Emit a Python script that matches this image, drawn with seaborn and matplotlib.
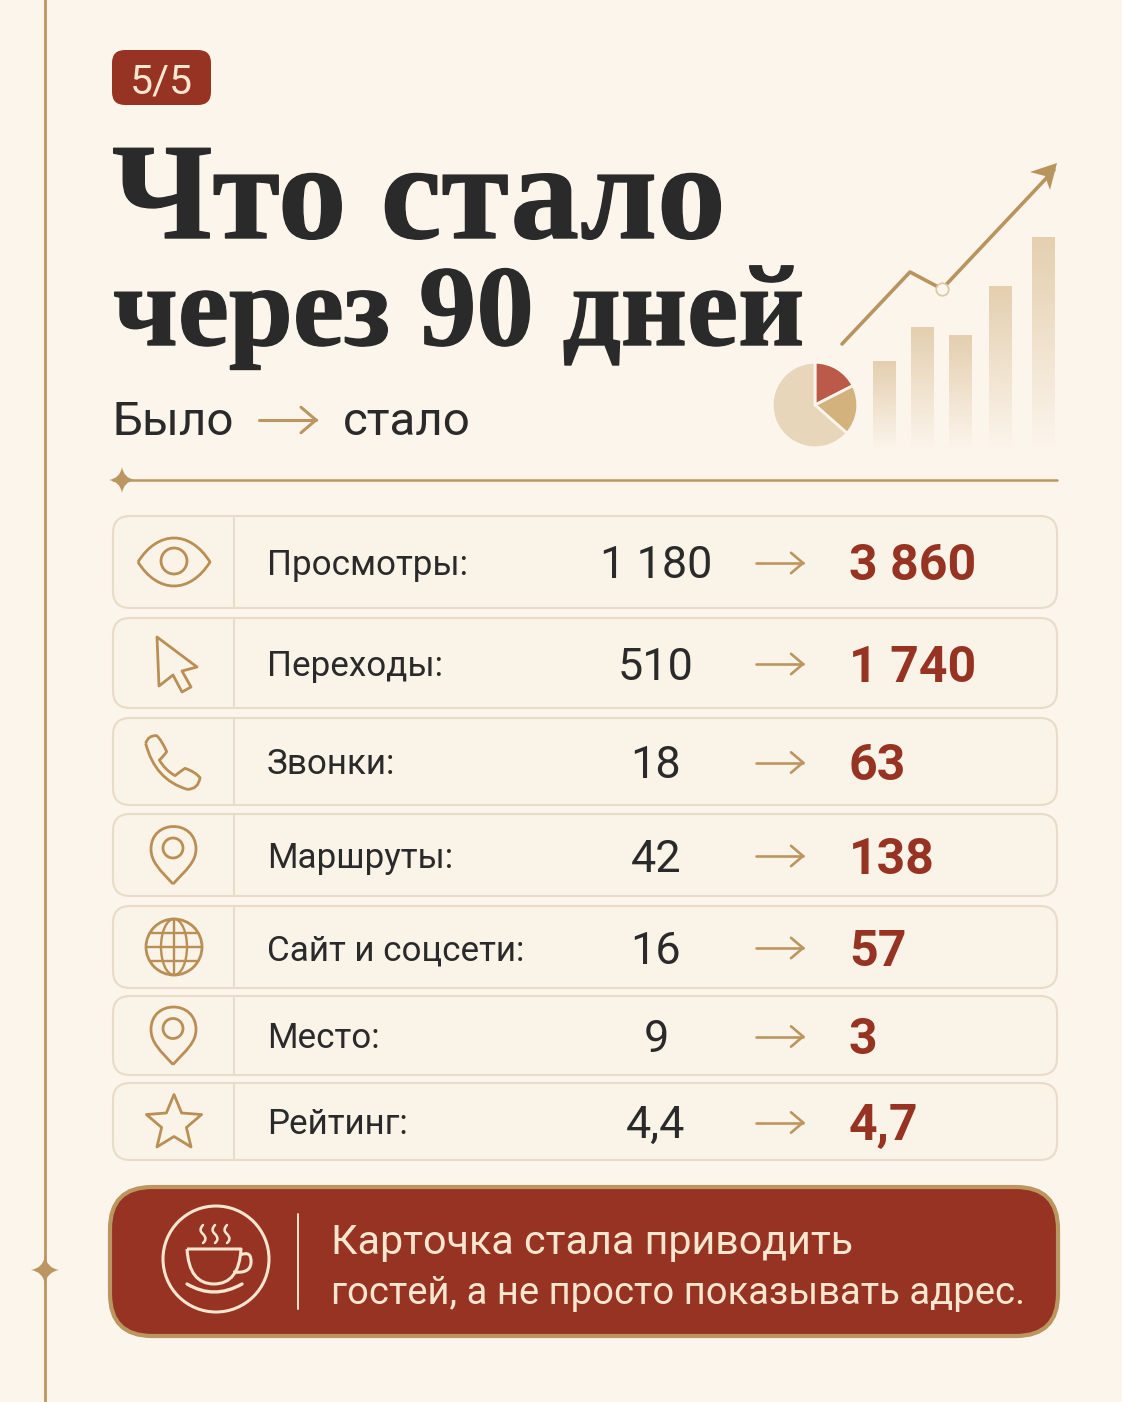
import numpy as np
import pandas as pd
import seaborn as sns
import matplotlib.pyplot as plt
import matplotlib.patheffects as pe
from matplotlib.colors import to_rgb
from matplotlib.patches import FancyBboxPatch, PathPatch, Circle, Ellipse, Polygon
from matplotlib.path import Path

# table values
labels = ["Просмотры:", "Переходы:", "Звонки:", "Маршруты:", "Сайт и соцсети:", "Место:", "Рейтинг:"]
before = ["1 180", "510", "18", "42", "16", "9", "4,4"]
after = ["3 860", "1 740", "63", "138", "57", "3", "4,7"]
icons = ["eye", "cursor", "phone", "pin", "globe", "pin", "star"]

# decoration chart values
bar_x = [0, 0.95, 1.9, 2.9, 3.98]
bar_values = [89, 123, 115, 164, 213]
trend_x = [-1.05, 0.65, 1.45, 4.25]
trend_y = [106, 178, 161, 280]
pie_values = [17.5, 19, 63.5]

BG = "#FCF5EC"
CARD = "#FAF3E8"
CARD_EDGE = "#E8DCC8"
GOLD = "#BC9660"
ICON = "#B98F55"
RED = "#963322"
DARK = "#2A2A2A"
CREAM = "#F8E6CF"

row_top = [516, 618, 718, 814, 906, 996, 1083]
row_bot = [608, 708, 805, 896, 988, 1075, 1160]

sns.set_theme(style="white")
plt.rcParams["font.family"] = ["Roboto", "DejaVu Sans"]


def fs(px):
    return px * 0.72


def star4(ax, x, y, r, color):
    codes = [Path.MOVETO] + [Path.CURVE3] * 8
    k = r * 0.14
    verts = [(x, y - r), (x + k, y - k), (x + r, y), (x + k, y + k), (x, y + r), (x - k, y + k), (x - r, y),
             (x - k, y - k), (x, y - r)]
    ax.add_patch(PathPatch(Path(verts, codes), fc=color, ec="none", zorder=4))


def thin_arrow(ax, x0, x1, y, head, lw, color):
    ax.plot([x0, x1], [y, y], color=color, lw=lw, solid_capstyle="round")
    ax.plot([x1 - head, x1, x1 - head], [y - head * 0.85, y, y + head * 0.85], color=color, lw=lw,
            solid_capstyle="round", solid_joinstyle="miter")


def outline(ax, verts, codes, lw=2.0):
    ax.add_patch(PathPatch(Path(verts, codes), fc="none", ec=ICON, lw=lw, joinstyle="round", zorder=4))


def draw_icon(ax, name, cy):
    if name == "eye":
        M, C = Path.MOVETO, Path.CURVE4
        verts = [(138, cy), (158, cy - 32), (190, cy - 32), (210, cy), (190, cy + 32), (158, cy + 32), (138, cy)]
        outline(ax, verts, [M, C, C, C, C, C, C])
        ax.add_patch(Circle((174, cy - 1), 13, fc="none", ec=ICON, lw=2.0, zorder=4))
    elif name == "cursor":
        pts = [(157, 637), (197, 667), (182, 671), (191, 687), (182, 692), (173, 675), (159, 686)]
        ax.add_patch(Polygon(pts, closed=True, fc="none", ec=ICON, lw=2.0, joinstyle="round", zorder=4))
    elif name == "phone":
        zoom = [(137, 700), (145, 675), (170, 677), (185, 690), (200, 725), (190, 740), (178, 750), (195, 780),
                (225, 797), (240, 785), (255, 775), (285, 785), (300, 803), (295, 838), (262, 838), (165, 810),
                (137, 700)]
        verts = [(100 + a / 3, 510 + b / 3) for a, b in zoom]
        outline(ax, verts, [Path.MOVETO] + [Path.CURVE3] * 16)
    elif name == "pin":
        M, C = Path.MOVETO, Path.CURVE4
        top = cy - 29
        tip = cy + 29
        verts = [(173, tip), (160, top + 44), (151, top + 36), (151, top + 23), (151, top - 7), (196, top - 7),
                 (196, top + 23), (196, top + 36), (186, top + 44), (173, tip)]
        outline(ax, verts, [M, C, C, C, C, C, C, C, C, C])
        ax.add_patch(Circle((173, cy - 7), 10, fc="none", ec=ICON, lw=2.0, zorder=4))
    elif name == "globe":
        ax.add_patch(Circle((174, cy), 28, fc="none", ec=ICON, lw=2.0, zorder=4))
        ax.add_patch(Ellipse((174, cy), 26, 56, fc="none", ec=ICON, lw=1.7, zorder=4))
        ax.plot([174, 174], [cy - 28, cy + 28], color=ICON, lw=1.7, zorder=4)
        ax.plot([146, 202], [cy, cy], color=ICON, lw=1.7, zorder=4)
        ax.plot([150, 198], [cy - 14, cy - 14], color=ICON, lw=1.7, zorder=4)
        ax.plot([150, 198], [cy + 14, cy + 14], color=ICON, lw=1.7, zorder=4)
    elif name == "star":
        ang = np.deg2rad(np.arange(0, 360, 36) - 90)
        rad = np.where(np.arange(10) % 2 == 0, 29, 13)
        pts = np.column_stack([174 + rad * np.cos(ang), cy + 2 + rad * np.sin(ang)])
        ax.add_patch(Polygon(pts, closed=True, fc="none", ec=ICON, lw=2.0, joinstyle="round", zorder=4))


fig = plt.figure(figsize=(11.22, 14.02), dpi=100, facecolor=BG)
ax = fig.add_axes([0, 0, 1, 1])
ax.set_xlim(0, 1122)
ax.set_ylim(1402, 0)
ax.axis("off")

# left rule
ax.plot([45, 45], [0, 1402], color=GOLD, lw=2)
star4(ax, 45, 1270, 14, GOLD)

# badge
ax.add_patch(FancyBboxPatch((112, 50), 99, 55, boxstyle="round,pad=0,rounding_size=13", fc=RED, ec="none"))
ax.text(161, 78, "5/5", color=CREAM, fontsize=fs(41), ha="center", va="center_baseline")

# title
title_fx = [pe.withStroke(linewidth=1.0, foreground=DARK)]
ax.text(112, 238, "Что стало", color=DARK, fontsize=fs(137), family="Liberation Serif", weight="bold",
        va="baseline", path_effects=title_fx)
ax.text(113, 345, "через 90 дней", color=DARK, fontsize=fs(115), family="Liberation Serif", weight="bold",
        va="baseline", path_effects=title_fx)

# subtitle
ax.text(112, 435, "Было", color=DARK, fontsize=fs(47.5), va="baseline")
thin_arrow(ax, 259, 316, 420, 15, 2.2, GOLD)
ax.text(343, 435, "стало", color=DARK, fontsize=fs(47.5), va="baseline")

# divider
ax.plot([113, 1057], [480, 480], color=GOLD, lw=1.8)
star4(ax, 122, 480, 13, GOLD)

# table rows
for i in range(len(labels)):
    top, bot = row_top[i], row_bot[i]
    cy = (top + bot) / 2
    ax.add_patch(FancyBboxPatch((113, top), 944, bot - top, boxstyle="round,pad=0,rounding_size=17",
                                fc=CARD, ec=CARD_EDGE, lw=1.5))
    ax.plot([234, 234], [top, bot], color=CARD_EDGE, lw=1.5)
    draw_icon(ax, icons[i], cy)
    ax.text(267, cy, labels[i], color=DARK, fontsize=fs(35), va="center_baseline")
    ax.text(656, cy, before[i], color=DARK, fontsize=fs(45), ha="center", va="center_baseline")
    thin_arrow(ax, 756, 803, cy + 1, 12, 1.9, GOLD)
    ax.text(849, cy, after[i], color=RED, fontsize=fs(50), weight="bold", va="center_baseline")

# banner
ax.add_patch(FancyBboxPatch((110, 1187), 948, 149, boxstyle="round,pad=0,rounding_size=42", fc=RED, ec=GOLD, lw=3))
ax.add_patch(Circle((216, 1259), 53, fc="none", ec=CREAM, lw=2.2))
ax.plot([298, 298], [1214, 1309], color=CREAM, lw=1.4)

M, L, Q = Path.MOVETO, Path.LINETO, Path.CURVE3
cup = [(187, 1249), (241, 1249), (239, 1284), (214, 1284), (189, 1284), (187, 1249)]
ax.add_patch(PathPatch(Path(cup, [M, L, Q, Q, Q, Q]), fc="none", ec=CREAM, lw=2.2, joinstyle="round"))
handle = [(240, 1255), (252, 1250), (251, 1263), (250, 1274), (233, 1272)]
ax.add_patch(PathPatch(Path(handle, [M, Q, Q, Q, Q]), fc="none", ec=CREAM, lw=2.2))
ax.add_patch(PathPatch(Path([(187, 1284), (214, 1300), (242, 1284)], [M, Q, Q]), fc="none", ec=CREAM, lw=2.4,
                       capstyle="round"))
for sx in [203, 215, 227]:
    steam = [(sx, 1225), (sx - 5, 1230), (sx, 1234), (sx + 5, 1239), (sx, 1243)]
    ax.add_patch(PathPatch(Path(steam, [M, Q, Q, Q, Q]), fc="none", ec=CREAM, lw=1.8, capstyle="round"))

ax.text(331, 1238, "Карточка стала приводить", color=CREAM, fontsize=fs(41.2), va="center_baseline")
ax.text(331, 1289, "гостей, а не просто показывать адрес.", color=CREAM, fontsize=fs(38.3), va="center_baseline")

# small chart, top right: one unit of x = 40 px, one unit of y = 1 px
x_lo, x_hi = -1.2, 4.5
left = 884 + x_lo * 40
right = 884 + x_hi * 40
bar_ax = fig.add_axes([left / 1122, 1 - 450 / 1402, (right - left) / 1122, 290 / 1402], facecolor="none")
chart = pd.DataFrame({"x": bar_x, "v": bar_values})
sns.barplot(data=chart, x="x", y="v", color="#E6D3B5", width=0.58, saturation=1, native_scale=True, ax=bar_ax)

# fade each bar into the background towards its foot
for patch in list(bar_ax.patches):
    bx, bw, bh = patch.get_x(), patch.get_width(), patch.get_height()
    rgba = np.zeros((64, 1, 4))
    rgba[..., :3] = to_rgb("#E4CFAF")
    rgba[..., 3] = np.linspace(1, 0, 64).reshape(-1, 1)
    patch.set_visible(False)
    bar_ax.imshow(rgba, extent=(bx, bx + bw, 0, bh), aspect="auto", origin="upper", zorder=1)

sns.lineplot(x=trend_x, y=trend_y, color="#B8945F", lw=2.6, sort=False, ax=bar_ax, zorder=3)
bar_ax.plot([trend_x[2]], [trend_y[2]], "o", ms=9, mfc=BG, mec="#D9C7A8", mew=1.2, zorder=4)
bar_ax.set_xlim(x_lo, x_hi)
bar_ax.set_ylim(0, 290)
bar_ax.axis("off")

# arrow head of the trend line
ax.add_patch(Polygon([(1057, 163), (1030, 172), (1045, 176), (1050, 190)], closed=True, fc="#B8945F", ec="none",
                     zorder=6))

pie_ax = fig.add_axes([(815 - 45) / 1122, 1 - (405 + 45) / 1402, 90 / 1122, 90 / 1402], facecolor="none")
pie_ax.pie(pie_values, colors=["#BC5A4A", "#D4B27E", "#E8D6BA"], startangle=90, counterclock=False, radius=0.95,
           wedgeprops=dict(edgecolor=BG, linewidth=2))
pie_ax.set_xlim(-1, 1)
pie_ax.set_ylim(-1, 1)

fig.savefig("out.png", dpi=100, facecolor=BG)
